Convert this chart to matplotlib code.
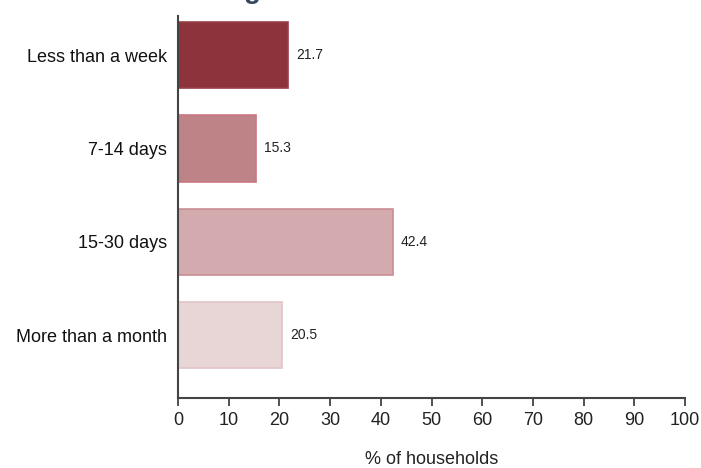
import matplotlib.pyplot as plt
import numpy as np

plt.rcParams['font.family'] = ['Liberation Sans', 'DejaVu Sans']

# storage duration categories and share of households
categories = ['Less than a week', '7-14 days', '15-30 days', 'More than a month']
values = [21.7, 15.3, 42.4, 20.5]
bar_colors = ['#8c333c', '#bd8386', '#d3abae', '#e8d5d6']
edge_colors = ['#9a4049', '#c9787f', '#c98e93', '#e2c4c6']

fig = plt.figure(figsize=(7.01, 4.68), dpi=100)
ax = fig.add_axes([178/701, 1 - 398/468, (685-178)/701, (398-16)/468])

y = np.arange(len(categories))
ax.barh(y, values, height=0.71, color=bar_colors, edgecolor=edge_colors, linewidth=1.2)
for yi, v in zip(y, values):
    ax.text(v + 1.6, yi, f'{v}', va='center', ha='left', fontsize=10, color='#222222')

ax.set_xlim(0, 100)
ax.set_ylim(3.675, -0.42)
ax.set_yticks(y)
ax.set_yticklabels(categories, fontsize=13, color='#111111')
ax.set_xticks(np.arange(0, 101, 10))
ax.tick_params(axis='x', labelsize=13, length=6, width=1.2, colors='#333333', labelcolor='#222222', pad=4)
ax.tick_params(axis='y', length=0, pad=8)
ax.spines['top'].set_visible(False)
ax.spines['right'].set_visible(False)
for s in ['left', 'bottom']:
    ax.spines[s].set_color('#444444')
    ax.spines[s].set_linewidth(1.5)
ax.set_xlabel('% of households', fontsize=13, color='#222222', labelpad=16)

# heading sits above the top edge, only its descender shows
fig.text(252/701, 1 + 2/468, 'g', fontsize=20, fontweight='bold', color='#34495e', ha='center', va='baseline')

fig.savefig('out.png', dpi=100)
